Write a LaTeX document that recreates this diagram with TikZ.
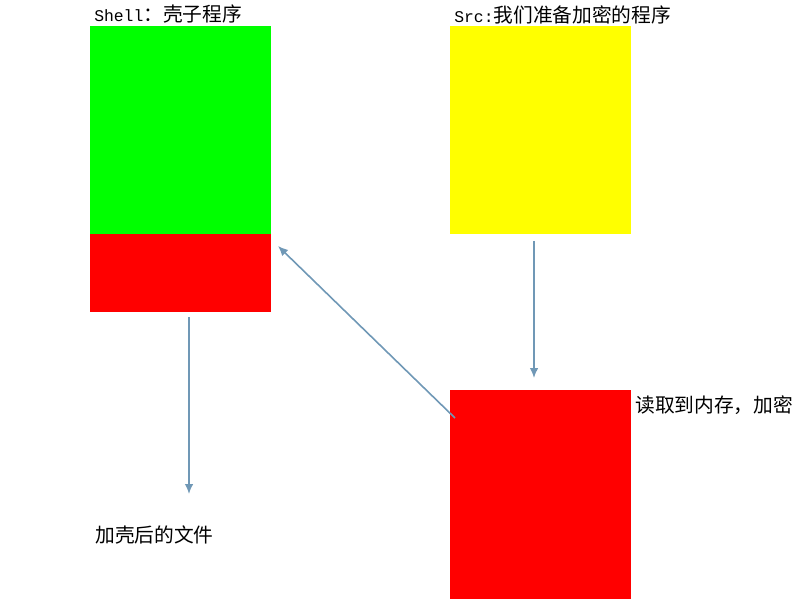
\documentclass[tikz,border=0pt]{standalone}
\usepackage{fontspec}
\setmainfont{Liberation Serif}
\setmonofont[Scale=0.83]{Liberation Mono}
\newfontfamily\cjk{Noto Sans CJK SC}
\usetikzlibrary{arrows.meta}
\definecolor{shellgreen}{RGB}{0,255,0}
\definecolor{stubred}{RGB}{255,0,0}
\definecolor{srcyellow}{RGB}{255,255,0}
\definecolor{linkblue}{RGB}{112,152,182}

\def\boxw{135.75pt}

\begin{document}
\begin{tikzpicture}[x=0.75pt,y=-0.75pt,
	part/.style={anchor=north west, inner sep=0pt, outer sep=0pt, minimum width=\boxw},
	label/.style={anchor=west, inner sep=0pt, font=\fontsize{14.8pt}{16pt}\selectfont},
	link/.style={draw=linkblue, line width=1.2pt, -{Latex[length=7.5pt,width=6.5pt]}}]
	
	\useasboundingbox (0,0) rectangle (811,599);
	
	\node[part, fill=shellgreen, minimum height=156pt] (shell) at (90,26) {};
	\node[part, fill=stubred, minimum height=58.5pt] (stub) at (90,234) {};
	\node[part, fill=srcyellow, minimum height=156pt] (src) at (450,26) {};
	\node[part, fill=stubred, minimum height=156.75pt] (mem) at (450,390) {};
	
	\node[label] (shelltext) at (94,14) {\texttt{Shell}\cjk ：壳子程序};
	\node[label] (srctext) at (454,15) {\texttt{Src:}\cjk 我们准备加密的程序};
	\node[label] (memtext) at (635,405) {\cjk 读取到内存，加密};
	\node[label] (outtext) at (95,535) {\cjk 加壳后的文件};
	
	\coordinate (srcout) at (534,241);
	\coordinate (memin) at (534,378);
	\coordinate (memout) at (455,418);
	\coordinate (stubin) at (278,246);
	\coordinate (stubout) at (189,317);
	\coordinate (result) at (189,494);
	
	\draw[link] (srcout) -- (memin);
	\draw[link] (memout) -- (stubin);
	\draw[link] (stubout) -- (result);
	
\end{tikzpicture}
\end{document}
